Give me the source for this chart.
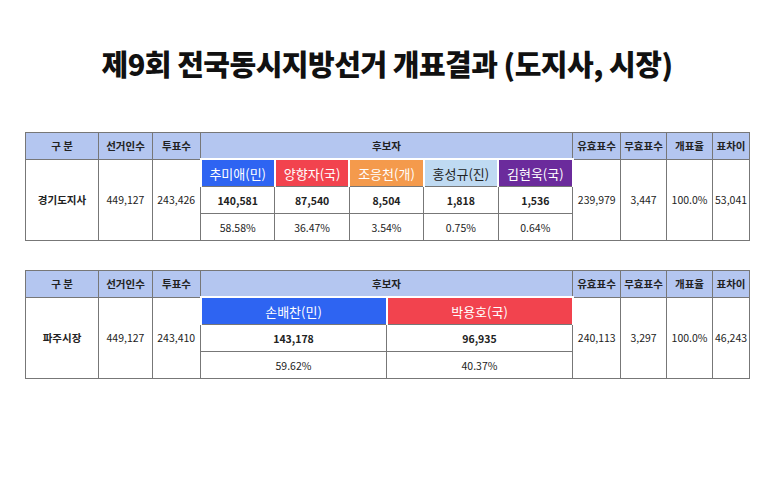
<!DOCTYPE html>
<html><head><meta charset="utf-8">
<script src="https://cdn.jsdelivr.net/npm/chart.js@4"></script>
<style>
body{margin:0;width:774px;height:499px;background:#fff;font-family:"Noto Sans CJK KR","Noto Sans",sans-serif;position:relative;overflow:hidden}
h1{position:absolute;top:42px;left:0;width:774px;text-align:center;margin:0;font-size:29px;font-weight:900;color:#111;letter-spacing:-0.5px}
table{position:absolute;left:25px;width:724px;border-collapse:collapse;table-layout:fixed;font-size:10.5px;color:#222}
td{border:1px solid #777;text-align:center;padding:0;height:26px}
tr.hd td{background:#b4c6f0;font-weight:700;height:25px}
td.name{color:#fff;font-size:13px;border:2px solid #fff;border-bottom:1px solid #777}
td.b{font-weight:700}
.lbl{font-weight:700}
</style></head><body>
<h1>제9회 전국동시지방선거 개표결과 (도지사, 시장)</h1>
<div id="wrap"></div>
<script>
'use strict';
const headers = ['구 분', '선거인수', '투표수', '후보자', '유효표수', '무효표수', '개표율', '표차이'];
const regions = ['경기도지사', '파주시장'];
const electors = ['449,127', '449,127'];
const turnout = ['243,426', '243,410'];
const candidateNames = [
  ['추미애(민)', '양향자(국)', '조응천(개)', '홍성규(진)', '김현욱(국)'],
  ['손배찬(민)', '박용호(국)']
];
const candidateVotes = [
  ['140,581', '87,540', '8,504', '1,818', '1,536'],
  ['143,178', '96,935']
];
const candidateShares = [
  ['58.58%', '36.47%', '3.54%', '0.75%', '0.64%'],
  ['59.62%', '40.37%']
];
const candidateColors = [
  ['#2e64f2', '#f2434e', '#f49a4c', '#bfdaf2', '#6b2b9c'],
  ['#2e64f2', '#f2434e']
];
const validVotes = ['239,979', '240,113'];
const invalidVotes = ['3,447', '3,297'];
const countRate = ['100.0%', '100.0%'];
const margins = ['53,041', '46,243'];

const tops = [132, 270];
const colW = [73, 54, 48, 372, 48, 46, 46, 37];
const wrap = document.getElementById('wrap');

regions.forEach(function(region, i){
  const n = candidateNames[i].length;
  const cw = 372 / n;
  let html = '<colgroup>';
  colW.forEach(function(w, c){
    if(c === 3){
      for(let k = 0; k < n; k++) html += '<col style="width:' + cw + 'px">';
    }else html += '<col style="width:' + w + 'px">';
  });
  html += '</colgroup><tr class="hd">';
  headers.forEach(function(h, c){
    html += '<td' + (c === 3 ? ' colspan="' + n + '"' : '') + '>' + h + '</td>';
  });
  html += '</tr><tr>';
  html += '<td rowspan="3" class="lbl">' + region + '</td><td rowspan="3">' + electors[i] + '</td><td rowspan="3">' + turnout[i] + '</td>';
  candidateNames[i].forEach(function(name, k){
    const col = candidateColors[i][k];
    html += '<td class="name" style="background:' + col + ';color:' + (col === '#bfdaf2' ? '#222' : '#fff') + '">' + name + '</td>';
  });
  html += '<td rowspan="3">' + validVotes[i] + '</td><td rowspan="3">' + invalidVotes[i] + '</td><td rowspan="3">' + countRate[i] + '</td><td rowspan="3">' + margins[i] + '</td></tr><tr>';
  candidateVotes[i].forEach(function(v){ html += '<td class="b">' + v + '</td>'; });
  html += '</tr><tr>';
  candidateShares[i].forEach(function(v){ html += '<td>' + v + '</td>'; });
  html += '</tr>';
  const t = document.createElement('table');
  t.style.top = tops[i] + 'px';
  t.innerHTML = html;
  wrap.appendChild(t);
});
</script>
</body></html>
